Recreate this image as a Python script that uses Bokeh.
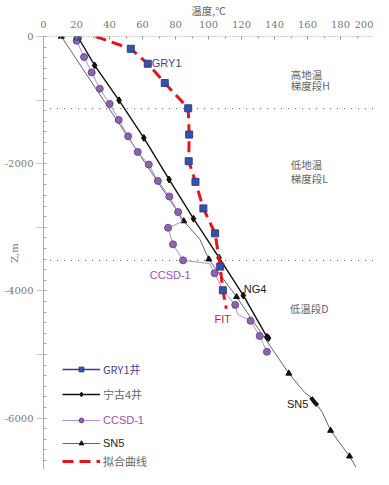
from bokeh.plotting import figure
from bokeh.models import (Range1d, FixedTicker, Label, Legend, LegendItem,
                          ColumnDataSource)
from bokeh.embed import file_html
from bokeh.resources import INLINE

# ---------------- data ----------------
GRY1_T = [20.7, 52.9, 63.2, 73.5, 87.7, 88.3, 88.0, 92.1, 96.9, 104.0, 107.1, 108.7]
GRY1_Z = [0, -193, -428, -732, -1129, -1542, -1961, -2285, -2703, -3095, -3618, -3990]

FIT_T = [31.6, 52.9, 63.2, 73.5, 87.7, 88.3, 88.0, 92.1, 96.9, 104.0, 107.1, 108.7, 110.8]
FIT_Z = [0, -193, -428, -732, -1129, -1542, -1961, -2285, -2703, -3095, -3618, -3990, -4280]

NG4_T = [20.7, 31.0, 45.8, 60.8, 76.1, 90.9, 106.4, 121.1, 135.4, 136.4]
NG4_Z = [0, -455, -1004, -1595, -2248, -2865, -3477, -4071, -4722, -4742]

CCSD_T = [20.1, 24.6, 29.2, 34.1, 40.1, 45.6, 51.3, 57.1, 63.8, 69.3, 76.3, 81.6,
          84.0, 75.5, 78.5, 84.6, 100.8, 103.7, 108.7, 116.2, 117.6, 125.5, 131.0, 135.4]
CCSD_Z = [-68, -324, -565, -821, -1061, -1312, -1569, -1815, -2013, -2270, -2515, -2761,
          -2913, -3007, -3268, -3519, -3572, -3722, -3990, -4220, -4366, -4470, -4710, -4957]
CCSD_MARK = [1, 1, 1, 1, 1, 1, 1, 1, 1, 1, 1, 1,
             0, 1, 1, 1, 0, 1, 0, 1, 0, 1, 1, 1]

SN5_T = [10.8, 85.0, 94.8, 100.2, 117.0, 148.7, 158.2, 162.1, 166.1, 169.0, 174.0, 185.5, 189.4]
SN5_Z = [0, -2902, -3190, -3502, -4094, -5297, -5595, -5674, -5804, -5909, -6196, -6600, -6772]
SN5_MARK = [1, 1, 0, 1, 1, 1, 0, 0, 0, 0, 1, 1, 0]
SN5_DENSE_T = [162.1, 163.6, 166.1]
SN5_DENSE_Z = [-5674, -5730, -5804]

BOUNDARIES = [-1135, -3520]

XTICKS = [0, 20, 40, 60, 80, 100, 120, 140, 160, 180, 200]
YTICKS = [0, -1000, -2000, -3000, -4000, -5000, -6000, -7000]
YTICK_LABELS = ["0", "", "-2000", "", "-4000", "", "-6000", ""]

# ---------------- figure ----------------
p = figure(width=373, height=469, x_range=Range1d(0, 200), y_range=Range1d(-6808, 0),
           x_axis_location="above", output_backend="svg", toolbar_location=None,
           min_border_left=43, min_border_right=0, min_border_bottom=0, min_border_top=35)
p.grid.visible = False
p.outline_line_color = None

p.title.text = "温度,℃"
p.title.text_font = "Noto Sans CJK SC"
p.title.text_font_size = "10.5px"
p.title.text_font_style = "normal"
p.title.text_color = "#666666"
p.title.align = "center"
p.title.offset = 23
p.title.standoff = 0

SERIF = "DejaVu Serif"
xa = p.xaxis[0]
xa.ticker = FixedTicker(ticks=XTICKS, minor_ticks=list(range(0, 201, 10)))
xa.major_label_text_font = SERIF
xa.major_label_text_font_size = "10px"
xa.major_label_text_color = "#777777"
xa.major_label_standoff = 9
xa.axis_line_color = "#999999"
xa.axis_line_dash = "1 2"
xa.major_tick_in = 3
xa.major_tick_out = 0
xa.minor_tick_in = 2
xa.minor_tick_out = 0
xa.major_tick_line_color = "#999999"
xa.minor_tick_line_color = "#999999"

ya = p.yaxis[0]
ya.ticker = FixedTicker(ticks=YTICKS, minor_ticks=[-i * 2000 / 12 for i in range(0, 42)])
ya.major_label_overrides = {t: l for t, l in zip(YTICKS, YTICK_LABELS)}
ya.major_label_text_font = SERIF
ya.major_label_text_font_size = "10px"
ya.major_label_text_color = "#777777"
ya.major_label_standoff = 3
ya.axis_line_color = "#aaaaaa"
ya.major_tick_in = 0
ya.major_tick_out = 7
ya.major_tick_line_dash = "1 1"
ya.major_tick_line_color = "#999999"
ya.minor_tick_in = 3
ya.minor_tick_out = 0
ya.minor_tick_line_color = "#aaaaaa"
ya.axis_label = "Z,m"
ya.axis_label_text_font = SERIF
ya.axis_label_text_font_size = "10px"
ya.axis_label_text_font_style = "normal"
ya.axis_label_text_color = "#777777"
ya.axis_label_standoff = -18

# boundary lines
p.segment(x0=[4] * len(BOUNDARIES), y0=BOUNDARIES, x1=[200] * len(BOUNDARIES), y1=BOUNDARIES,
          line_color="#555555", line_width=1, line_dash="1 6")

# SN5
sn5_line = p.line(SN5_T, SN5_Z, line_color="#666666", line_width=1)
p.line(SN5_DENSE_T, SN5_DENSE_Z, line_color="#111111", line_width=4)
sn5_m = p.scatter([t for t, m in zip(SN5_T, SN5_MARK) if m],
                  [z for z, m in zip(SN5_Z, SN5_MARK) if m],
                  marker="triangle", size=6, color="#111111")

# CCSD-1
ccsd_line = p.line(CCSD_T, CCSD_Z, line_color="#B58CD0", line_width=1)
ccsd_m = p.scatter([t for t, m in zip(CCSD_T, CCSD_MARK) if m],
                   [z for z, m in zip(CCSD_Z, CCSD_MARK) if m],
                   marker="circle", size=7, fill_color="#8D62AE", line_color="#6E4A90")

# NG4
ng4_line = p.line(NG4_T, NG4_Z, line_color="#111111", line_width=1.4)
ng4_m = p.scatter(NG4_T, NG4_Z, marker="diamond", size=7, color="#111111")

# fit
fit_line = p.line(FIT_T, FIT_Z, line_color="#E8141C", line_width=3, line_dash="11 6")

# GRY1 (markers only in the plot; the legend shows its line style)
gry_src = ColumnDataSource(dict(x=GRY1_T, y=GRY1_Z))
gry_m = p.scatter("x", "y", source=gry_src, marker="square", size=7,
                  fill_color="#2F54A8", line_color="#3A3A8A")
gry_leg_line = p.line(x=[float("nan")], y=[float("nan")], line_color="#3A3A9A", line_width=1.5)

# ---------------- labels ----------------
def lab(x, y, text, color, font="Liberation Sans", size="11px", **kw):
    p.add_layout(Label(x=x, y=y, text=text, text_color=color, text_font=font,
                       text_font_size=size, text_baseline="middle", **kw))

lab(65.6, -424, "GRY1", "#4B3C9E")
lab(64.4, -3749, "CCSD-1", "#A050B0")
lab(121.4, -3969, "NG4", "#222222")
lab(103.6, -4439, "FIT", "#E8141C")
lab(147.5, -5773, "SN5", "#222222")
cjk = "Noto Sans CJK SC"
lab(149.9, -596, "高地温", "#666666", font=cjk, size="10.5px")
lab(149.9, -769, "梯度段H", "#666666", font=cjk, size="10.5px")
lab(149.9, -2008, "低地温", "#666666", font=cjk, size="10.5px")
lab(149.9, -2227, "梯度段L", "#666666", font=cjk, size="10.5px")
lab(149.3, -4282, "低温段D", "#666666", font=cjk, size="10.5px")

# ---------------- legends ----------------
entries = [
    ("GRY1井", [gry_leg_line, gry_m], "#4B3C9E", cjk, 92),
    ("宁古4井", [ng4_line, ng4_m], "#666666", cjk, 67),
    ("CCSD-1", [ccsd_line, ccsd_m], "#A050B0", "Liberation Sans", 43),
    ("SN5", [sn5_line, sn5_m], "#222222", "Liberation Sans", 20),
    ("拟合曲线", [fit_line], "#666666", cjk, 0),
]
for label, rends, color, font, yloc in entries:
    lg = Legend(items=[LegendItem(label=label, renderers=rends)], location=(19, yloc),
                padding=0, margin=0, spacing=0, border_line_color=None,
                background_fill_alpha=0, glyph_width=38, glyph_height=12,
                label_height=12, label_standoff=3, label_text_font=font,
                label_text_font_size="11px", label_text_color=color)
    p.add_layout(lg)

open("out.html", "w").write(file_html(p, INLINE))
